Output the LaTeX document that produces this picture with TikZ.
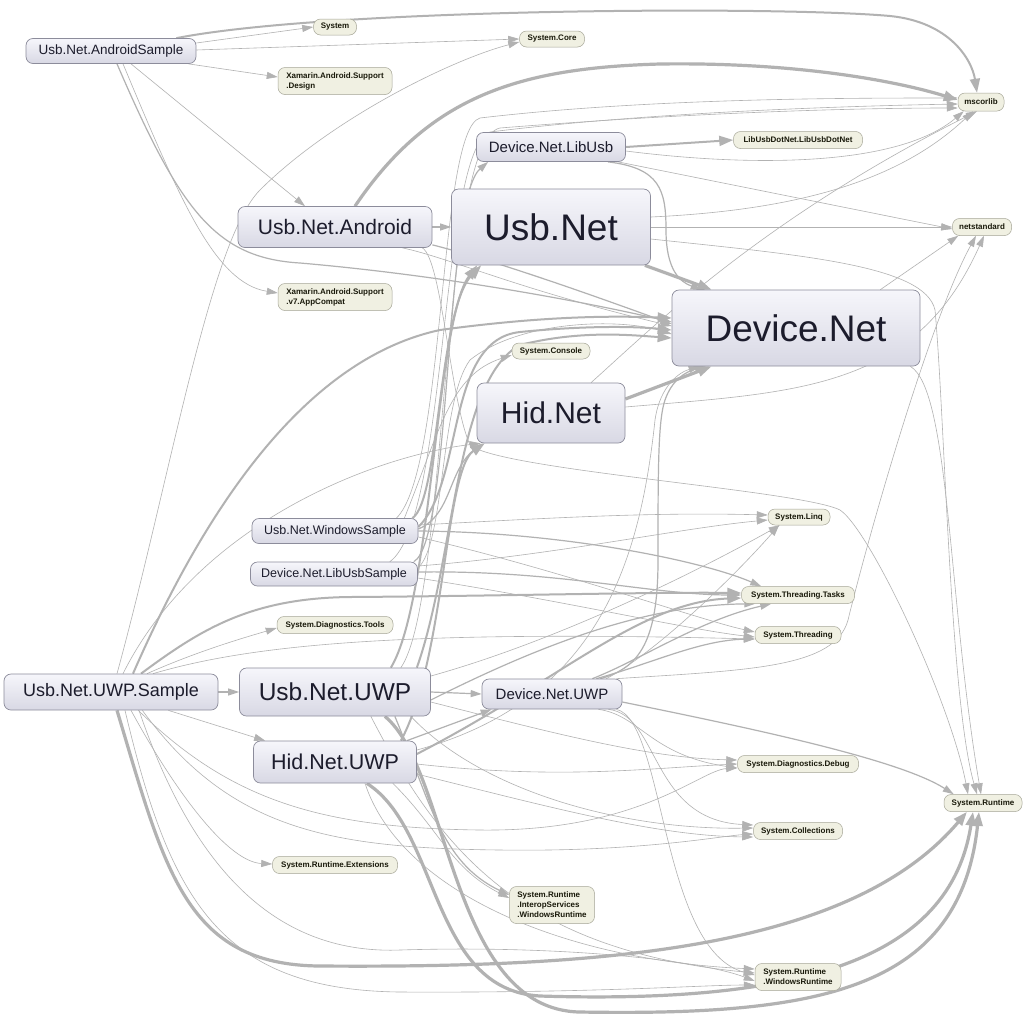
\documentclass[tikz,border=0pt]{standalone}
\usepackage{fontspec}
\setmainfont{Liberation Sans}
\usetikzlibrary{arrows.meta}

\definecolor{edgeGray}{RGB}{178,178,178}
\definecolor{projTop}{RGB}{246,246,251}
\definecolor{projBot}{RGB}{216,216,228}
\definecolor{projLine}{RGB}{140,140,155}
\definecolor{projText}{RGB}{28,28,44}
\definecolor{asmFill}{RGB}{240,240,226}
\definecolor{asmLine}{RGB}{165,165,150}
\definecolor{asmText}{RGB}{25,25,10}

\pgfdeclarelayer{edges}
\pgfsetlayers{edges,main}

\tikzset{
  proj/.style={draw=projLine,line width=0.7pt,rounded corners=7pt,
    top color=projTop,bottom color=projBot,text=projText,inner sep=0pt},
  asm/.style={draw=asmLine,line width=0.5pt,rounded corners=7pt,fill=asmFill,
    text=asmText,inner sep=0pt,align=left,
    font=\bfseries\fontsize{8}{10}\selectfont},
  dep/.style={draw=edgeGray,line width=0.6pt,-{Triangle[length=11pt,width=7pt]}},
  dep2/.style={dep,line width=1.2pt},
  dep3/.style={draw=edgeGray,line width=2pt,-{Triangle[length=14pt,width=10pt]}},
  dep4/.style={dep3,line width=3.2pt}
}

\begin{document}
\begin{tikzpicture}[x=1pt,y=-1pt]

\begin{pgfonlayer}{edges}
\path[use as bounding box,fill=white] (0,0) rectangle (1024,1023);
\end{pgfonlayer}

% projects
\node[proj,minimum width=170pt,minimum height=25pt,font=\fontsize{13.5}{15}\selectfont] (aSmp) at (111,51) {Usb.Net.AndroidSample};
\node[proj,minimum width=194pt,minimum height=41pt,font=\fontsize{21}{24}\selectfont] (uAnd) at (335,227) {Usb.Net.Android};
\node[proj,minimum width=149pt,minimum height=29pt,font=\fontsize{15}{17}\selectfont] (libUsb) at (551,147) {Device.Net.LibUsb};
\node[proj,minimum width=199pt,minimum height=76pt,font=\fontsize{37}{40}\selectfont] (usbNet) at (551,227) {Usb.Net};
\node[proj,minimum width=248pt,minimum height=76pt,font=\fontsize{37}{40}\selectfont] (devNet) at (796,328) {Device.Net};
\node[proj,minimum width=148pt,minimum height=60pt,font=\fontsize{30}{33}\selectfont] (hidNet) at (551,413) {Hid.Net};
\node[proj,minimum width=166pt,minimum height=25pt,font=\fontsize{12.5}{14}\selectfont] (wSmp) at (335,531) {Usb.Net.WindowsSample};
\node[proj,minimum width=167pt,minimum height=24pt,font=\fontsize{12.5}{14}\selectfont] (lSmp) at (334,574) {Device.Net.LibUsbSample};
\node[proj,minimum width=214pt,minimum height=36pt,font=\fontsize{18}{20}\selectfont] (uSmp) at (111,692) {Usb.Net.UWP.Sample};
\node[proj,minimum width=191pt,minimum height=48pt,font=\fontsize{24.5}{27}\selectfont] (uUwp) at (335,692) {Usb.Net.UWP};
\node[proj,minimum width=163pt,minimum height=42pt,font=\fontsize{21.5}{24}\selectfont] (hUwp) at (335,762) {Hid.Net.UWP};
\node[proj,minimum width=140pt,minimum height=30pt,font=\fontsize{15}{17}\selectfont] (dUwp) at (552,694) {Device.Net.UWP};

% assemblies
\node[asm,minimum width=43pt,minimum height=16pt] (sys) at (335,27) {System};
\node[asm,minimum width=65pt,minimum height=16pt] (core) at (552,39) {System.Core};
\node[asm,minimum width=114pt,minimum height=27pt] (xDes) at (335,81) {Xamarin.Android.Support\\.Design};
\node[asm,minimum width=46pt,minimum height=18pt] (mscorlib) at (981,102) {mscorlib};
\node[asm,minimum width=129pt,minimum height=17pt] (lud) at (798,140) {LibUsbDotNet.LibUsbDotNet};
\node[asm,minimum width=59pt,minimum height=17pt] (netstd) at (982,227) {netstandard};
\node[asm,minimum width=114pt,minimum height=27pt] (xV7) at (335,297) {Xamarin.Android.Support\\.v7.AppCompat};
\node[asm,minimum width=78pt,minimum height=16pt] (sysCon) at (551,351) {System.Console};
\node[asm,minimum width=62pt,minimum height=16pt] (sysLinq) at (799,517) {System.Linq};
\node[asm,minimum width=113pt,minimum height=17pt] (sysTT) at (798,595) {System.Threading.Tasks};
\node[asm,minimum width=86pt,minimum height=17pt] (sysThr) at (798,635) {System.Threading};
\node[asm,minimum width=116pt,minimum height=17pt] (diagTools) at (335,625) {System.Diagnostics.Tools};
\node[asm,minimum width=121pt,minimum height=17pt] (sysDbg) at (798,764) {System.Diagnostics.Debug};
\node[asm,minimum width=78pt,minimum height=17pt] (sysRt) at (983,803) {System.Runtime};
\node[asm,minimum width=89pt,minimum height=17pt] (sysCol) at (798,831) {System.Collections};
\node[asm,minimum width=125pt,minimum height=17pt] (rtExt) at (335,865) {System.Runtime.Extensions};
\node[asm,minimum width=85pt,minimum height=37pt] (interop) at (552,905) {System.Runtime\\.InteropServices\\.WindowsRuntime};
\node[asm,minimum width=86pt,minimum height=27pt] (rtWin) at (798,977) {System.Runtime\\.WindowsRuntime};

\begin{pgfonlayer}{edges}
% Usb.Net.AndroidSample
\draw[dep3] ([xshift=-20pt]aSmp.north east) .. controls (330,8) and (780,6) .. (890,16) .. controls (950,22) and (972,60) .. ([xshift=-4pt]mscorlib.north);
\draw[dep] ([yshift=8pt]aSmp.east) -- (sys.west);
\draw[dep] ([yshift=1pt]aSmp.east) -- (core.west);
\draw[dep] ([xshift=-8pt]aSmp.south east) -- ([yshift=4pt]xDes.west);
\draw[dep] ([xshift=20pt]aSmp.south) -- ([xshift=-30pt]uAnd.north);
\draw[dep] ([xshift=12pt]aSmp.south) .. controls (180,200) and (215,283) .. ([yshift=4pt]xV7.west);
\draw[dep2] ([xshift=6pt]aSmp.south) .. controls (180,210) and (215,258) .. (300,263) .. controls (450,276) and (590,303) .. ([yshift=6pt]devNet.west);

% Usb.Net.Android
\draw[dep4] ([xshift=20pt]uAnd.north) .. controls (430,95) and (520,68) .. (660,64) .. controls (800,62) and (900,82) .. ([yshift=2pt]mscorlib.west);
\draw[dep2] (uAnd.east) -- (usbNet.west);
\draw[dep2] ([yshift=3pt]uAnd.south east) .. controls (500,262) and (600,298) .. ([yshift=4pt]devNet.west);
\draw[dep] ([xshift=-30pt]uAnd.south east) .. controls (450,258) and (520,290) .. ([yshift=2pt]devNet.west);
\draw[dep] ([xshift=-10pt]uAnd.south east) .. controls (442,260) and (450,400) .. (470,445) .. controls (500,470) and (800,490) .. (840,510) .. controls (870,530) and (950,700) .. ([xshift=-15pt]sysRt.north);

% Device.Net.LibUsb
\draw[dep3] (libUsb.east) -- (lud.west);
\draw[dep] ([yshift=-4pt]libUsb.east) .. controls (760,168) and (900,165) .. ([xshift=6pt]mscorlib.south west);
\draw[dep] ([xshift=-8pt]libUsb.south east) -- ([yshift=-2pt]netstd.west);
\draw[dep2] ([xshift=-18pt]libUsb.south east) .. controls (660,168) and (666,190) .. (666,230) .. controls (666,270) and (680,282) .. ([xshift=30pt]devNet.north west);

% Usb.Net
\draw[dep] ([yshift=10pt]usbNet.east) .. controls (800,210) and (900,180) .. ([xshift=-8pt]mscorlib.south);
\draw[dep] (usbNet.east) -- (netstd.west);
\draw[dep4] ([xshift=-6pt]usbNet.south east) -- ([xshift=40pt]devNet.north west);
\draw[dep] ([yshift=-12pt]usbNet.east) .. controls (800,255) and (925,265) .. (935,310) .. controls (945,420) and (950,700) .. ([xshift=-6pt]sysRt.north);

% Hid.Net
\draw[dep4] ([yshift=14pt]hidNet.east) -- ([xshift=40pt]devNet.south west);
\draw[dep] ([xshift=40pt]hidNet.north) .. controls (650,330) and (760,220) .. ([xshift=-4pt]mscorlib.south);
\draw[dep] ([yshift=6pt]hidNet.east) .. controls (800,392) and (915,390) .. ([xshift=2pt]netstd.south);

% Device.Net
\draw[dep] ([xshift=-40pt]devNet.north east) -- ([xshift=6pt]netstd.south west);
\draw[dep] ([xshift=-10pt]devNet.south east) .. controls (950,390) and (948,600) .. ([xshift=-2pt]sysRt.north);

% Usb.Net.WindowsSample
\draw[dep3] ([xshift=-6pt]wSmp.north east) .. controls (440,500) and (438,310) .. ([xshift=30pt]usbNet.south west);
\draw[dep3] ([yshift=4pt]wSmp.east) .. controls (465,480) and (445,340) .. (520,332) .. controls (580,326) and (630,326) .. ([yshift=-2pt]devNet.west);
\draw[dep2] ([yshift=2pt]wSmp.east) .. controls (452,515) and (448,470) .. ([xshift=6pt]hidNet.south west);
\draw[dep] ([xshift=-14pt]wSmp.north east) .. controls (440,430) and (450,375) .. ([yshift=-4pt]sysCon.west);
\draw[dep] ([yshift=6pt]wSmp.east) .. controls (550,518) and (650,512) .. ([yshift=2pt]sysLinq.west);
\draw[dep2] (wSmp.east) .. controls (560,532) and (700,560) .. ([xshift=20pt]sysTT.north west);
\draw[dep] ([yshift=-6pt]wSmp.east) .. controls (560,570) and (700,620) .. ([yshift=3pt]sysThr.west);
\draw[dep] ([xshift=-22pt]wSmp.north east) .. controls (446,470) and (438,130) .. (480,118) .. controls (650,98) and (850,98) .. ([yshift=4pt]mscorlib.west);

% Device.Net.LibUsbSample
\draw[dep2] ([xshift=-4pt]lSmp.north east) .. controls (452,540) and (444,200) .. ([xshift=12pt]libUsb.south west);
\draw[dep] ([yshift=6pt]lSmp.east) .. controls (445,545) and (440,400) .. (470,360) .. controls (520,320) and (620,318) .. ([yshift=-6pt]devNet.west);
\draw[dep2] ([yshift=2pt]lSmp.east) .. controls (560,570) and (650,595) .. (sysTT.west);
\draw[dep] ([yshift=8pt]lSmp.east) .. controls (550,556) and (680,528) .. ([yshift=-3pt]sysLinq.west);
\draw[dep] ([yshift=-4pt]lSmp.east) .. controls (560,600) and (690,630) .. ([yshift=-2pt]sysThr.west);
\draw[dep] ([xshift=-28pt]lSmp.north east) .. controls (448,520) and (440,150) .. (490,132) .. controls (650,112) and (850,106) .. ([yshift=-2pt]mscorlib.west);

% Usb.Net.UWP.Sample
\draw[dep2] (uSmp.east) -- (uUwp.west);
\draw[dep] ([xshift=-50pt]uSmp.south east) -- ([xshift=12pt]hUwp.north west);
\draw[dep] ([xshift=36pt]uSmp.north) .. controls (200,650) and (250,636) .. ([yshift=-3pt]diagTools.west);
\draw[dep3] ([xshift=30pt]uSmp.north) .. controls (200,630) and (250,598) .. (350,597) .. controls (500,596) and (650,592) .. ([yshift=2pt]sysTT.west);
\draw[dep3] ([xshift=22pt]uSmp.north) .. controls (200,520) and (300,360) .. (440,330) .. controls (550,315) and (620,316) .. ([yshift=10pt]devNet.west);
\draw[dep] ([xshift=12pt]uSmp.north) .. controls (200,520) and (380,455) .. ([xshift=4pt]hidNet.south west);
\draw[dep] ([xshift=6pt]uSmp.north) .. controls (170,480) and (210,240) .. (260,190) .. controls (330,120) and (450,60) .. ([yshift=-3pt]core.west);
\draw[dep] ([xshift=42pt]uSmp.north) .. controls (250,645) and (400,630) .. ([yshift=-4pt]sysThr.west);
\draw[dep] ([xshift=20pt]uSmp.south) .. controls (180,800) and (230,862) .. ([yshift=1pt]rtExt.west);
\draw[dep4] ([xshift=6pt]uSmp.south) .. controls (165,870) and (185,965) .. (320,966) .. controls (600,968) and (850,950) .. ([xshift=-16pt]sysRt.south);
\draw[dep] ([xshift=28pt]uSmp.south) .. controls (190,860) and (270,955) .. (400,950) .. controls (560,945) and (700,960) .. ([yshift=-4pt]rtWin.west);
\draw[dep] ([xshift=14pt]uSmp.south) .. controls (170,900) and (220,990) .. (400,992) .. controls (600,993) and (700,985) .. ([yshift=-8pt]rtWin.west);
\draw[dep] ([xshift=-80pt]uSmp.south east) .. controls (230,800) and (320,828) .. (480,830) .. controls (640,832) and (700,770) .. ([yshift=-4pt]sysDbg.west);
\draw[dep] ([xshift=-76pt]uSmp.south east) .. controls (230,830) and (330,848) .. (500,850) .. controls (640,852) and (720,836) .. ([yshift=-3pt]sysCol.west);

% Usb.Net.UWP
\draw[dep2] (uUwp.east) -- (dUwp.west);
\draw[dep3] ([xshift=-40pt]uUwp.north east) .. controls (432,600) and (436,320) .. ([xshift=26pt]usbNet.south west);
\draw[dep3] ([xshift=-14pt]uUwp.north east) .. controls (455,560) and (455,380) .. (520,345) .. controls (580,330) and (630,335) .. ([yshift=-10pt]devNet.west);
\draw[dep2] ([yshift=-8pt]uUwp.east) .. controls (550,640) and (650,605) .. ([xshift=14pt]sysTT.south west);
\draw[dep] ([yshift=16pt]uUwp.east) .. controls (560,640) and (700,570) .. ([xshift=12pt]sysLinq.south west);
\draw[dep] ([yshift=-10pt]uUwp.east) .. controls (560,735) and (650,758) .. ([yshift=4pt]sysDbg.west);
\draw[dep] ([xshift=-20pt]uUwp.south east) .. controls (480,790) and (620,830) .. ([yshift=3pt]sysCol.west);
\draw[dep2] ([xshift=-36pt]uUwp.south east) .. controls (430,800) and (440,862) .. ([yshift=10pt]interop.west);
\draw[dep4] ([xshift=-46pt]uUwp.south east) .. controls (450,770) and (450,1010) .. (580,1012) .. controls (820,1016) and (960,990) .. ([xshift=-4pt]sysRt.south);
\draw[dep] ([xshift=-60pt]uUwp.south east) .. controls (440,850) and (520,950) .. ([yshift=4pt]rtWin.west);
\draw[dep] ([xshift=-30pt]uUwp.north east) .. controls (448,600) and (440,140) .. (500,128) .. controls (700,112) and (860,108) .. ([yshift=-6pt]mscorlib.west);

% Hid.Net.UWP
\draw[dep2] ([xshift=-10pt]hUwp.north east) -- ([xshift=10pt]dUwp.south west);
\draw[dep3] ([xshift=-16pt]hUwp.north east) .. controls (445,660) and (445,470) .. ([xshift=8pt]hidNet.south west);
\draw[dep] ([yshift=12pt]hUwp.east) .. controls (600,700) and (640,560) .. (655,420) .. controls (660,385) and (680,372) .. ([xshift=28pt]devNet.south west);
\draw[dep3] ([yshift=8pt]hUwp.east) .. controls (560,680) and (640,602) .. ([yshift=-3pt]sysTT.west);
\draw[dep] ([yshift=-2pt]hUwp.east) .. controls (560,780) and (650,768) .. (sysDbg.west);
\draw[dep] ([yshift=-12pt]hUwp.east) .. controls (560,810) and (660,836) .. ([yshift=-6pt]sysCol.west);
\draw[dep] ([xshift=-24pt]hUwp.south east) .. controls (440,830) and (450,868) .. ([yshift=7pt]interop.west);
\draw[dep4] ([xshift=-50pt]hUwp.south east) .. controls (440,830) and (430,990) .. (540,996) .. controls (800,1004) and (950,960) .. ([xshift=-10pt]sysRt.south);
\draw[dep] ([xshift=30pt]hUwp.south) .. controls (400,890) and (560,960) .. ([yshift=8pt]rtWin.west);

% Device.Net.UWP
\draw[dep2] ([yshift=-8pt]dUwp.east) .. controls (760,730) and (900,760) .. ([xshift=10pt]sysRt.north west);
\draw[dep2] ([xshift=-22pt]dUwp.north east) .. controls (640,668) and (658,640) .. (658,560) .. controls (658,470) and (658,420) .. (665,400) .. controls (672,380) and (685,372) .. ([xshift=34pt]devNet.south west);
\draw[dep] ([xshift=-16pt]dUwp.north east) .. controls (660,650) and (740,570) .. ([xshift=-20pt]sysLinq.south);
\draw[dep2] ([xshift=-30pt]dUwp.north east) .. controls (640,660) and (700,620) .. ([xshift=30pt]sysTT.south west);
\draw[dep2] ([xshift=-26pt]dUwp.north east) .. controls (650,664) and (700,640) .. ([yshift=-4pt]sysThr.west);
\draw[dep] ([xshift=-6pt]dUwp.north east) .. controls (750,670) and (835,668) .. (848,620) .. controls (870,530) and (930,320) .. ([xshift=-6pt]netstd.south);
\draw[dep] ([xshift=-24pt]dUwp.south east) .. controls (640,715) and (650,755) .. ([yshift=-4pt]sysDbg.west);
\draw[dep] ([xshift=-14pt]dUwp.south east) .. controls (660,715) and (650,820) .. ([yshift=6pt]sysCol.west);
\draw[dep] ([xshift=-6pt]dUwp.south east) .. controls (665,720) and (660,950) .. ([yshift=2pt]rtWin.west);
\end{pgfonlayer}

\end{tikzpicture}
\end{document}
